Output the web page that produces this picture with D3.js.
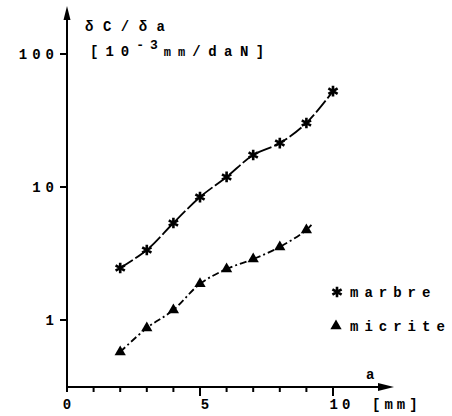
<!DOCTYPE html>
<html>
<head>
<meta charset="utf-8">
<script src="https://cdn.jsdelivr.net/npm/d3@7"></script>
<style>
  body { margin: 0; background: #fff; }
</style>
</head>
<body>
<div id="chart"></div>
<script>
// crack length a [mm] vs compliance derivative dC/da
var aValues = [2, 3, 4, 5, 6, 7, 8, 9, 10];
var marbre = [2.46, 3.36, 5.36, 8.4, 11.9, 17.4, 21.4, 30.3, 52.6];
var aMicrite = [2, 3, 4, 5, 6, 7, 8, 9];
var micrite = [0.575, 0.87, 1.19, 1.87, 2.42, 2.87, 3.54, 4.75];
var micriteLineEnd = [9.25, 5.36];
var xTicks = [0, 1, 2, 3, 4, 5, 6, 7, 8, 9, 10];
var xLabels = [0, 5, 10];
var yTicks = [1, 10, 100];
var seriesNames = ['marbre', 'micrite'];

var width = 452, height = 416;
var font = "'Liberation Mono', 'Courier New', monospace";

var svg = d3.select('#chart').append('svg')
  .attr('width', width)
  .attr('height', height);

function label(sel, size, spacing) {
  return sel.style('font-family', font)
    .attr('font-size', size)
    .attr('letter-spacing', spacing)
    .attr('font-weight', 'bold');
}

var x = d3.scaleLinear().domain([0, 10]).range([67, 333]);
var y = d3.scaleLog().domain([1, 100]).range([320, 54]);
var axisY = 387;

// axes
var axes = svg.append('g').attr('stroke', '#000').attr('stroke-width', 2);
axes.append('line').attr('x1', x(0)).attr('x2', 386).attr('y1', axisY).attr('y2', axisY);
axes.append('line').attr('x1', x(0)).attr('x2', x(0)).attr('y1', axisY + 3).attr('y2', 16);

svg.append('path')
  .attr('d', 'M394,' + axisY + ' L378,' + (axisY - 4) + ' L378,' + (axisY + 4) + 'Z')
  .attr('fill', '#000');
svg.append('path')
  .attr('d', 'M' + x(0) + ',6 L' + (x(0) - 3.5) + ',20 L' + (x(0) + 3.5) + ',20Z')
  .attr('fill', '#000');

// x ticks
axes.selectAll('line.xt').data(xTicks)
  .enter().append('line')
  .attr('class', 'xt')
  .attr('x1', function(d) { return x(d); })
  .attr('x2', function(d) { return x(d); })
  .attr('y1', axisY)
  .attr('y2', function(d) { return d % 5 === 0 && d > 0 ? axisY + 9 : axisY + 5; });

label(svg.selectAll('text.xl').data(xLabels)
  .enter().append('text'), 14, 4)
  .attr('class', 'xl')
  .attr('x', function(d) { return x(d) + (d === 0 ? 2 : d === 5 ? 7 : 9); })
  .attr('y', 409)
  .attr('text-anchor', 'middle')
  .text(function(d) { return d; });

label(svg.append('text'), 14, 4).attr('x', 372).attr('y', 409).text('[mm]');
label(svg.append('text'), 14, 0).attr('x', 366).attr('y', 379).text('a');

// y ticks
axes.selectAll('line.yt').data(yTicks)
  .enter().append('line')
  .attr('class', 'yt')
  .attr('x1', x(0) - 7)
  .attr('x2', x(0))
  .attr('y1', function(d) { return y(d); })
  .attr('y2', function(d) { return y(d); });

label(svg.selectAll('text.yl').data(yTicks)
  .enter().append('text'), 14, 5)
  .attr('class', 'yl')
  .attr('x', x(0) - 8)
  .attr('y', function(d) { return y(d) + 5; })
  .attr('text-anchor', 'end')
  .text(function(d) { return d; });

// y title
label(svg.append('text'), 14, 9.5).attr('x', 85).attr('y', 31).text('δC/δa');
var unit = label(svg.append('text'), 14, 7).attr('x', 90).attr('y', 56);
unit.append('tspan').text('[10');
unit.append('tspan').attr('dy', -7).attr('font-size', 13).attr('letter-spacing', 6).text('-3');
unit.append('tspan').attr('dy', 7).attr('font-size', 12).attr('letter-spacing', 7).text('mm');
unit.append('tspan').attr('letter-spacing', 7.5).text('/daN]');

// lines
var line = d3.line()
  .x(function(d) { return x(d[0]); })
  .y(function(d) { return y(d[1]); })
  .curve(d3.curveCatmullRom);

var marbrePts = aValues.map(function(a, i) { return [a, marbre[i]]; });
var micritePts = aMicrite.map(function(a, i) { return [a, micrite[i]]; });

svg.append('path')
  .attr('d', line(marbrePts))
  .attr('fill', 'none')
  .attr('stroke', '#000')
  .attr('stroke-width', 1.8)
  .attr('stroke-dasharray', '15,3');

svg.append('path')
  .attr('d', line(micritePts.concat([micriteLineEnd])))
  .attr('fill', 'none')
  .attr('stroke', '#000')
  .attr('stroke-width', 1.8)
  .attr('stroke-dasharray', '7,3,2,3');

// markers
var star = d3.symbol().type(d3.symbolAsterisk).size(80);
var tri = d3.symbol().type(d3.symbolTriangle).size(55);

svg.selectAll('path.star').data(marbrePts)
  .enter().append('path')
  .attr('class', 'star')
  .attr('d', star)
  .attr('transform', function(d) { return 'translate(' + x(d[0]) + ',' + y(d[1]) + ')'; })
  .attr('fill', 'none')
  .attr('stroke', '#000')
  .attr('stroke-width', 2.6);

svg.selectAll('path.tri').data(micritePts)
  .enter().append('path')
  .attr('class', 'tri')
  .attr('d', tri)
  .attr('transform', function(d) { return 'translate(' + x(d[0]) + ',' + y(d[1]) + ')'; })
  .attr('fill', '#000');

// legend
var legend = svg.append('g');
legend.append('path').attr('d', star).attr('transform', 'translate(337,292)')
  .attr('fill', 'none').attr('stroke', '#000').attr('stroke-width', 2.6);
legend.append('path').attr('d', tri).attr('transform', 'translate(336,326)').attr('fill', '#000');
label(legend.selectAll('text').data(seriesNames)
  .enter().append('text'), 14, 6)
  .attr('x', 350)
  .attr('y', function(d, i) { return 297 + i * 34; })
  .text(function(d) { return d; });
</script>
</body>
</html>
